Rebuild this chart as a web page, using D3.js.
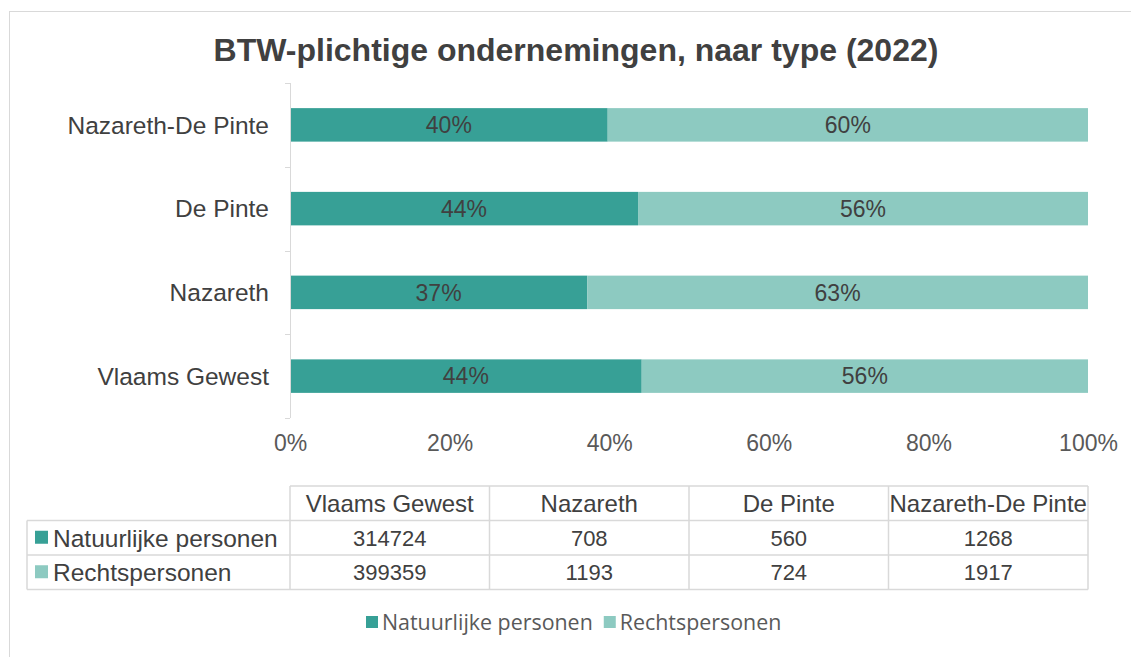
<!DOCTYPE html>
<html>
<head>
<meta charset="utf-8">
<style>
  body { margin: 0; background: #fff; }
  text { font-family: "Liberation Sans", Arial, sans-serif; }
</style>
<script src="https://d3js.org/d3.v7.min.js"></script>
</head>
<body>
<svg id="chart" width="1131" height="657"></svg>
<script>
// data
var categories = ["Vlaams Gewest", "Nazareth", "De Pinte", "Nazareth-De Pinte"];
var seriesNames = ["Natuurlijke personen", "Rechtspersonen"];
var natuurlijk = [314724, 708, 560, 1268];
var recht = [399359, 1193, 724, 1917];
var xTicks = [0, 0.2, 0.4, 0.6, 0.8, 1];

var colors = ["#37a096", "#8dcac1"];
var textCol = "#404040";
var gridCol = "#d9d9d9";

var svg = d3.select("#chart");

// outer frame
svg.append("rect")
  .attr("x", 9.5).attr("y", 11.5)
  .attr("width", 1200).attr("height", 700)
  .attr("fill", "none").attr("stroke", gridCol);

// title
svg.append("text")
  .attr("x", 576).attr("y", 61)
  .attr("text-anchor", "middle")
  .style("font-size", "32px").style("font-weight", "bold")
  .attr("fill", textCol)
  .text("BTW-plichtige ondernemingen, naar type (2022)");

var plotL = 290, plotR = 1088, plotT = 83, plotB = 418;

var x = d3.scaleLinear().domain([0, 1]).range([plotL, plotR]);
var y = d3.scaleBand()
  .domain(categories.slice().reverse())
  .range([plotT, plotB])
  .paddingInner(0.6).paddingOuter(0.3);

// stacked shares
var rows = categories.map(function(c, i) {
  var tot = natuurlijk[i] + recht[i];
  return { cat: c, a: natuurlijk[i] / tot, b: recht[i] / tot };
});
var stack = d3.stack().keys(["a", "b"])(rows);

var g = svg.append("g");
stack.forEach(function(layer, k) {
  g.selectAll(".s" + k)
    .data(layer)
    .enter().append("rect")
      .attr("x", function(d) { return x(d[0]); })
      .attr("y", function(d) { return y(d.data.cat); })
      .attr("width", function(d) { return x(d[1]) - x(d[0]); })
      .attr("height", y.bandwidth())
      .attr("fill", colors[k]);
  g.selectAll(".l" + k)
    .data(layer)
    .enter().append("text")
      .attr("x", function(d) { return (x(d[0]) + x(d[1])) / 2; })
      .attr("y", function(d) { return y(d.data.cat) + y.bandwidth() / 2; })
      .attr("dy", "0.36em")
      .attr("text-anchor", "middle")
      .style("font-size", "23px")
      .attr("fill", textCol)
      .text(function(d) { return Math.round((d[1] - d[0]) * 100) + "%"; });
});

// y axis line and ticks on band edges
svg.append("line")
  .attr("x1", plotL + 0.5).attr("x2", plotL + 0.5)
  .attr("y1", plotT).attr("y2", plotB)
  .attr("stroke", gridCol);
d3.range(categories.length + 1).forEach(function(i) {
  var yy = Math.round(plotT + i * y.step()) + 0.5;
  svg.append("line")
    .attr("x1", plotL - 5).attr("x2", plotL)
    .attr("y1", yy).attr("y2", yy)
    .attr("stroke", gridCol);
});

// category labels
svg.append("g").selectAll("text")
  .data(categories)
  .enter().append("text")
    .attr("x", 269)
    .attr("y", function(d) { return y(d) + y.bandwidth() / 2; })
    .attr("dy", "0.36em")
    .attr("text-anchor", "end")
    .style("font-size", "24.5px")
    .attr("fill", textCol)
    .text(function(d) { return d; });

// x axis
var xAxis = svg.append("g")
  .attr("transform", "translate(0," + plotB + ")")
  .call(d3.axisBottom(x).tickValues(xTicks).tickSize(0).tickPadding(17).tickFormat(d3.format(".0%")));
xAxis.select(".domain").remove();
xAxis.selectAll("text")
  .style("font-size", "23px")
  .style("font-family", "'Liberation Sans', Arial, sans-serif")
  .attr("fill", "#595959");

// data table
var tTop = 486, rowH = 34.5, colW = x(1) - x(0);
var tg = svg.append("g");
var nCol = categories.length;
var colX = function(i) { return plotL + i * colW / nCol; };

tg.append("path")
  .attr("fill", "none").attr("stroke", gridCol).attr("stroke-width", 1.5)
  .attr("d", function() {
    var p = "M" + plotL + "," + tTop + "H" + plotR;
    for (var r = 1; r <= 3; r++) p += "M27," + (tTop + r * rowH) + "H" + plotR;
    p += "M27," + (tTop + rowH) + "V" + (tTop + 3 * rowH);
    for (var c = 0; c <= nCol; c++) p += "M" + colX(c) + "," + tTop + "V" + (tTop + 3 * rowH);
    return p;
  });

tg.selectAll(".hdr")
  .data(categories)
  .enter().append("text")
    .attr("x", function(d, i) { return colX(i) + colW / nCol / 2; })
    .attr("y", tTop + rowH / 2)
    .attr("dy", "0.36em")
    .attr("text-anchor", "middle")
    .style("font-size", "24px")
    .attr("fill", textCol)
    .text(function(d) { return d; });

[natuurlijk, recht].forEach(function(vals, r) {
  var cy = tTop + (r + 1.5) * rowH;
  tg.append("rect")
    .attr("x", 35).attr("y", cy - 7)
    .attr("width", 13).attr("height", 13)
    .attr("fill", colors[r]);
  tg.append("text")
    .attr("x", 53).attr("y", cy)
    .attr("dy", "0.36em")
    .style("font-size", "24.5px")
    .attr("fill", textCol)
    .text(seriesNames[r]);
  tg.selectAll(".v" + r)
    .data(vals)
    .enter().append("text")
      .attr("x", function(d, i) { return colX(i) + colW / nCol / 2; })
      .attr("y", cy)
      .attr("dy", "0.36em")
      .attr("text-anchor", "middle")
      .style("font-size", "22px")
      .attr("fill", textCol)
      .text(function(d) { return d; });
});

// legend
var lg = svg.append("g").attr("transform", "translate(366,622)");
var lx = 0;
seriesNames.forEach(function(name, i) {
  var item = lg.append("g").attr("transform", "translate(" + lx + ",0)");
  item.append("rect")
    .attr("x", 0).attr("y", -6).attr("width", 12).attr("height", 12)
    .attr("fill", colors[i]);
  var t = item.append("text")
    .attr("x", 16).attr("y", 0).attr("dy", "0.36em")
    .style("font-family", "'Open Sans', sans-serif")
    .style("font-size", "21.4px")
    .attr("fill", "#595959")
    .text(name);
  lx += 16 + t.node().getComputedTextLength() + 11;
});
</script>
</body>
</html>
